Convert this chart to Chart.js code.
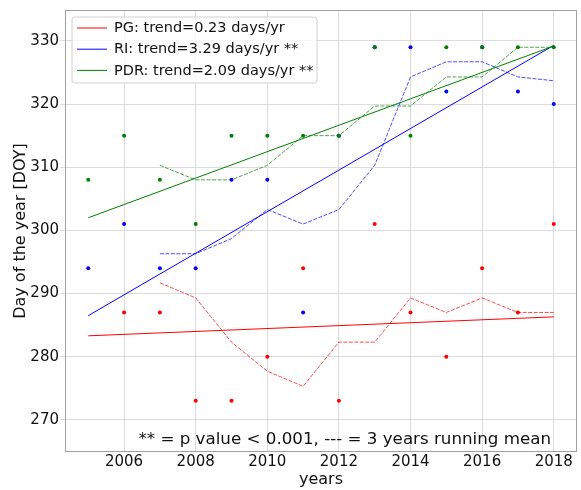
<!DOCTYPE html>
<html>
<head>
<meta charset="utf-8">
<script src="https://cdn.jsdelivr.net/npm/chart.js@4.4.1/dist/chart.umd.min.js"></script>
<style>
  body { margin: 0; background: #fff; }
  canvas { display: block; }
</style>
</head>
<body>
<canvas id="myChart" width="581" height="490"></canvas>
<script>
// Values
const years = [2005, 2006, 2007, 2008, 2009, 2010, 2011, 2012, 2013, 2014, 2015, 2016, 2017, 2018];
const pg  = [null, 287, 287, 273, 273, 280, 294, 273, 301, 287, 280, 294, 287, 301];
const ri  = [294, 301, 294, 294, 308, 308, 287, 315, 329, 329, 322, 329, 322, 320];
const pdr = [308, 315, 308, 301, 315, 315, 315, 315, 329, 315, 329, 329, 329, 329];

// 3 years running means (dashed)
const meanYears = [2007, 2008, 2009, 2010, 2011, 2012, 2013, 2014, 2015, 2016, 2017, 2018];
const pgMean  = [291.7, 289.3, 282.3, 277.7, 275.3, 282.3, 282.3, 289.3, 287, 289.3, 287, 287];
const riMean  = [296.3, 296.3, 298.7, 303.3, 301, 303.3, 310.3, 324.3, 326.7, 326.7, 324.3, 323.7];
const pdrMean = [310.3, 308, 308, 310.3, 315, 315, 319.7, 319.7, 324.3, 324.3, 329, 329];

// trend lines (first and last year)
const trendYears = [2005, 2018];
const pgTrend  = [283.3, 286.3];
const riTrend  = [286.5, 329.3];
const pdrTrend = [302.0, 329.2];

const names  = ['PG', 'RI', 'PDR'];
const slopes = [0.23, 3.29, 2.09];
const stars  = ['', ' **', ' **'];
const colors = ['rgb(255,0,0)', 'rgb(0,0,255)', 'rgb(0,128,0)'];
const dashColors = ['rgba(255,0,0,0.7)', 'rgba(0,0,255,0.7)', 'rgba(0,128,0,0.7)'];

const xTicks = [2006, 2008, 2010, 2012, 2014, 2016, 2018];
const yTicks = [270, 280, 290, 300, 310, 320, 330];
const note = '** = p value < 0.001, --- = 3 years running mean';

function pts(xs, ys) {
  return xs.map((x, i) => ({ x: x, y: ys[i] }));
}

const values = [pg, ri, pdr];
const means = [pgMean, riMean, pdrMean];
const trends = [pgTrend, riTrend, pdrTrend];

const datasets = [];
for (let k = 0; k < 3; k++) {
  datasets.push({
    label: names[k],
    data: pts(years, values[k]),
    showLine: false,
    pointRadius: 2,
    pointBorderWidth: 0,
    backgroundColor: colors[k],
    order: 2 - k
  });
  datasets.push({
    label: names[k] + ' trend',
    data: pts(trendYears, trends[k]),
    showLine: true,
    pointRadius: 0,
    borderWidth: 1,
    borderColor: colors[k],
    order: 8 - k
  });
  datasets.push({
    label: names[k] + ' mean',
    data: pts(meanYears, means[k]),
    showLine: true,
    pointRadius: 0,
    borderWidth: 1,
    borderDash: [4, 1.5],
    borderColor: dashColors[k],
    order: 5 - k
  });
}

// frame, legend box and note
const extras = {
  id: 'extras',
  afterDatasetsDraw(chart) {
    const a = chart.chartArea;
    const c = chart.ctx;
    c.save();
    c.strokeStyle = '#a0a0a0';
    c.lineWidth = 1;
    c.strokeRect(a.left + 0.5, a.top + 0.5, a.right - a.left - 1, a.bottom - a.top - 1);
    c.restore();
  },
  afterDraw(chart) {
    const c = chart.ctx;
    c.save();
    // legend
    c.beginPath();
    c.roundRect(72, 17, 245, 66, 3);
    c.fillStyle = 'rgba(255,255,255,0.8)';
    c.fill();
    c.strokeStyle = '#d0d0d0';
    c.lineWidth = 1;
    c.stroke();
    c.font = '14.5px "DejaVu Sans"';
    c.textBaseline = 'middle';
    c.fillStyle = '#111';
    for (let k = 0; k < 3; k++) {
      const y = 28 + k * 21.2;
      c.beginPath();
      c.moveTo(77, y);
      c.lineTo(107, y);
      c.strokeStyle = colors[k];
      c.lineWidth = 1;
      c.stroke();
      c.fillText(names[k] + ': trend=' + slopes[k].toFixed(2) + ' days/yr' + stars[k], 114, y + 0.5);
    }
    // note
    c.font = '16.7px "DejaVu Sans"';
    c.textBaseline = 'alphabetic';
    c.textAlign = 'right';
    c.fillText(note, 551, 444);
    c.restore();
  }
};

Chart.defaults.font.family = '"DejaVu Sans"';
Chart.defaults.color = '#111';

new Chart(document.getElementById('myChart'), {
  type: 'scatter',
  data: { datasets: datasets },
  options: {
    responsive: false,
    animation: false,
    layout: { padding: { top: 10, right: 4, left: 0, bottom: 0 } },
    plugins: { legend: { display: false }, tooltip: { enabled: false } },
    scales: {
      x: {
        type: 'linear',
        min: 2004.35,
        max: 2018.65,
        afterBuildTicks: s => { s.ticks = xTicks.map(v => ({ value: v })); },
        afterFit: s => { s.height = 38; },
        ticks: { font: { size: 15 }, padding: 1, maxRotation: 0, callback: v => String(v) },
        grid: { color: '#dcdcdc', tickLength: 0 },
        border: { display: false },
        title: { display: true, text: 'years', font: { size: 16 }, padding: { top: 0, bottom: 1 } }
      },
      y: {
        min: 264.9,
        max: 334.9,
        afterBuildTicks: s => { s.ticks = yTicks.map(v => ({ value: v })); },
        afterFit: s => { s.width = 65; },
        ticks: { font: { size: 15 }, padding: 1, callback: v => String(v) },
        grid: { color: '#dcdcdc', tickLength: 5 },
        border: { display: false },
        title: { display: true, text: 'Day of the year [DOY]', font: { size: 16 }, padding: { top: 11, bottom: 0 } }
      }
    }
  },
  plugins: [extras]
});
</script>
</body>
</html>
